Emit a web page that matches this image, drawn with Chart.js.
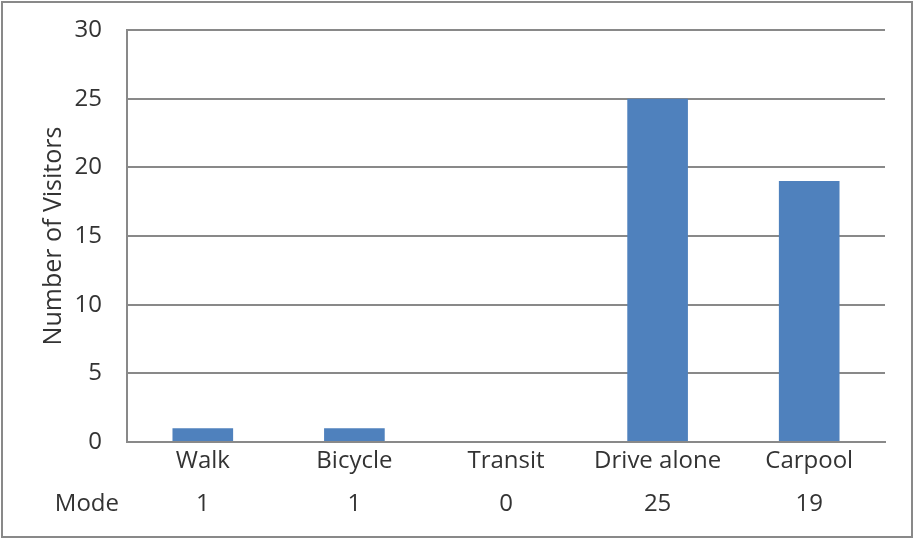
<!DOCTYPE html>
<html>
<head>
<meta charset="utf-8">
<script src="https://cdn.jsdelivr.net/npm/chart.js@4"></script>
<style>
html,body{margin:0;padding:0;background:#fff;}
#wrap{width:914px;height:539px;position:relative;}
</style>
</head>
<body>
<div id="wrap"><canvas id="c" width="914" height="539"></canvas></div>
<script>
const categories = ["Walk", "Bicycle", "Transit", "Drive alone", "Carpool"];
const visitors = [1, 1, 0, 25, 19];
const seriesName = "Mode";
const yTicks = [0, 5, 10, 15, 20, 25, 30];

const FONT = "'Open Sans', 'Noto Sans', sans-serif";
const TEXT = "#333333";
const GRID = "#898989";

const frameAndTable = {
  id: "frameAndTable",
  beforeDraw(chart) {
    const ctx = chart.ctx;
    ctx.save();
    ctx.fillStyle = "#ffffff";
    ctx.fillRect(0, 0, chart.width, chart.height);
    ctx.strokeStyle = GRID;
    ctx.lineWidth = 2;
    ctx.strokeRect(2, 2, chart.width - 4, chart.height - 4);
    ctx.restore();
  },
  afterDraw(chart) {
    const ctx = chart.ctx;
    const xs = chart.scales.x;
    const rowY = 504;
    ctx.save();
    ctx.font = "24px " + FONT;
    ctx.fillStyle = TEXT;
    ctx.textBaseline = "middle";
    ctx.textAlign = "right";
    ctx.fillText(seriesName, 119, rowY);
    ctx.textAlign = "center";
    visitors.forEach((v, i) => {
      ctx.fillText(String(v), xs.getPixelForValue(i), rowY);
    });
    ctx.restore();
  }
};

new Chart(document.getElementById("c"), {
  type: "bar",
  data: {
    labels: categories,
    datasets: [{
      label: seriesName,
      data: visitors,
      backgroundColor: "#4F81BD",
      borderWidth: 0,
      categoryPercentage: 1,
      barPercentage: 0.4
    }]
  },
  options: {
    responsive: false,
    animation: false,
    devicePixelRatio: 1,
    layout: { padding: { left: 0, right: 29, top: 30, bottom: 0 } },
    plugins: { legend: { display: false }, tooltip: { enabled: false } },
    scales: {
      x: {
        grid: { display: false, drawTicks: false },
        border: { display: true, color: GRID, width: 2 },
        ticks: { color: TEXT, font: { family: FONT, size: 24 }, padding: 5, maxRotation: 0, autoSkip: false },
        afterFit(scale) { scale.height = 97; scale.paddingLeft = 0; scale.paddingRight = 0; }
      },
      y: {
        min: 0, max: 30,
        afterBuildTicks(scale) { scale.ticks = yTicks.map(v => ({ value: v })); },
        grid: { color: GRID, lineWidth: 2, drawTicks: false },
        border: { display: true, color: GRID, width: 2 },
        ticks: { color: TEXT, font: { family: FONT, size: 24 }, padding: 25 },
        title: { display: true, text: "Number of Visitors", color: TEXT, font: { family: FONT, size: 25 }, padding: { top: 39, bottom: 0 } },
        afterFit(scale) { scale.width = 127; scale.paddingTop = 0; scale.paddingBottom = 0; }
      }
    }
  },
  plugins: [frameAndTable]
});
</script>
</body>
</html>
